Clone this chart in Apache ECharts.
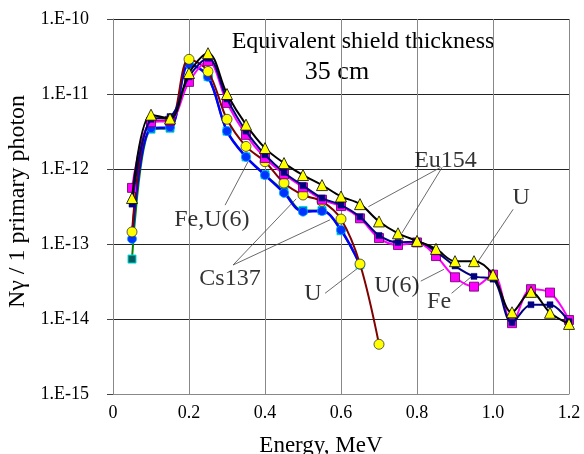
<!DOCTYPE html>
<html>
<head>
<meta charset="utf-8">
<script src="https://cdn.jsdelivr.net/npm/echarts@6/dist/echarts.min.js"></script>
<style>html,body{margin:0;padding:0;background:#fff}#c{width:584px;height:454px}</style>
</head>
<body>
<div id="c"></div>
<script>
const energy = [0.05,0.1,0.15,0.2,0.25,0.3,0.35,0.4,0.45,0.5,0.55,0.6,0.65,0.7,0.75,0.8,0.85,0.9,0.95,1.0,1.05,1.1,1.15,1.2];
const xTicks = ['0','0.2','0.4','0.6','0.8','1.0','1.2'];
const yTicks = ['1.E-15','1.E-14','1.E-13','1.E-12','1.E-11','1.E-10'];

const tealSq   = [6.3e-14,3.4e-12,3.5e-12,2.5e-11,1.7e-11,3.2e-12,1.45e-12,8.4e-13,5.0e-13,2.8e-13,2.8e-13,1.5e-13,5.3e-14];
const blueCirc = [1.17e-13,3.5e-12,3.6e-12,2.5e-11,1.7e-11,3.2e-12,1.45e-12,8.3e-13,4.8e-13,2.7e-13,2.75e-13,1.54e-13,5.3e-14];
const yellowCirc = [1.45e-13,4.4e-12,4.5e-12,2.9e-11,2.0e-11,4.6e-12,2.0e-12,1.25e-12,6.5e-13,4.5e-13,3.7e-13,2.15e-13,5.4e-14,4.6e-15];
const magentaSq = [5.6e-13,4.2e-12,4.4e-12,1.45e-11,2.75e-11,7.6e-12,2.85e-12,1.4e-12,8.5e-13,5.7e-13,3.9e-13,3.2e-13,2.2e-13,1.2e-13,9.7e-14,1.05e-13,6.9e-14,3.6e-14,2.7e-14,3.9e-14,8.8e-15,2.5e-14,2.25e-14,9.7e-15];
const navySq = [3.4e-13,4.6e-12,5.0e-12,1.7e-11,3.0e-11,8.6e-12,3.2e-12,1.55e-12,9.0e-13,6.0e-13,4.1e-13,3.3e-13,2.3e-13,1.3e-13,1.05e-13,1.07e-13,7.9e-14,5.1e-14,3.7e-14,3.4e-14,9.0e-15,1.55e-14,1.55e-14,9.2e-15];
const yellowTri = [4.1e-13,5.3e-12,4.7e-12,1.9e-11,3.5e-11,1.0e-11,3.9e-12,1.9e-12,1.2e-12,8.3e-13,6.1e-13,4.3e-13,3.4e-13,2.0e-13,1.39e-13,1.1e-13,8.6e-14,5.9e-14,5.9e-14,3.9e-14,1.23e-14,2.3e-14,1.21e-14,8.6e-15];

// annotation labels: [energy, value, text]
const annLabels = [
  [0.875, 1.3e-12, 'Eu154'],
  [0.26, 2.1e-13, 'Fe,U(6)'],
  [0.308, 3.4e-14, 'Cs137'],
  [0.526, 2.2e-14, 'U'],
  [0.747, 2.75e-14, 'U(6)'],
  [0.858, 1.7e-14, 'Fe'],
  [1.074, 4.2e-13, 'U']
];
// annotation leader lines: [[e1,v1],[e2,v2]]
const annLines = [
  [[0.862, 1.05e-12],[0.672, 3.14e-13]],
  [[0.866, 1.05e-12],[0.760, 1.39e-13]],
  [[0.295, 3.3e-13],[0.355, 1.24e-12]],
  [[0.316, 5.25e-14],[0.482, 4.0e-13]],
  [[0.316, 5.25e-14],[0.571, 2.1e-13]],
  [[0.558, 2.2e-14],[0.655, 5.25e-14]],
  [[0.810, 3.2e-14],[0.871, 4.6e-14]],
  [[0.891, 2.2e-14],[0.944, 3.7e-14]],
  [[1.053, 2.9e-13],[0.957, 5.5e-14]]
];

function pairs(vals){ return vals.map((v,i)=>[energy[i], v]); }

const FONT = '"Liberation Serif", "Times New Roman", serif';
const chart = echarts.init(document.getElementById('c'), null, {renderer:'canvas'});

function lineSeries(name, vals, color, symbol, size, fill, border, bw, z, lw){
  return {
    name, type:'line', data:pairs(vals), smooth:0.35, z:z,
    symbol, symbolSize:size, showSymbol:true,
    lineStyle:{color, width:lw||2},
    itemStyle:{color:fill, borderColor:border, borderWidth:bw, opacity:1},
    emphasis:{disabled:true}, animation:false
  };
}

chart.setOption({
  animation:false,
  grid:{left:113, right:15, top:19, bottom:60, containLabel:false, outerBoundsMode:'none'},
  xAxis:{
    type:'value', min:0, max:1.2, interval:0.2,
    name:'Energy, MeV', nameLocation:'middle', nameGap:40,
    nameTextStyle:{fontFamily:FONT, fontSize:23, color:'#000', padding:[0,40,0,0]},
    axisLine:{show:true, lineStyle:{color:'#888', width:1}},
    axisTick:{show:false},
    axisLabel:{fontFamily:FONT, fontSize:18, color:'#000', margin:10,
      formatter:(v)=>{ const i=Math.round(v/0.2); return xTicks[i]!==undefined?xTicks[i]:''; }},
    splitLine:{show:true, lineStyle:{color:'#888', width:1}}
  },
  yAxis:{
    type:'log', logBase:10, min:1e-15, max:1e-10,
    name:'N\u03b3 / 1 primary photon', nameLocation:'middle', nameGap:82, nameRotate:90,
    nameTextStyle:{fontFamily:FONT, fontSize:24, color:'#000', padding:[0,0,0,10]},
    axisLine:{show:true, lineStyle:{color:'#888', width:1}},
    axisTick:{show:true, inside:false, length:6, lineStyle:{color:'#444'}},
    axisLabel:{fontFamily:FONT, fontSize:18, color:'#000', margin:24,
      formatter:(v)=>{ const e=Math.round(Math.log10(v)); return yTicks[e+15]||''; }},
    splitLine:{show:true, lineStyle:{color:'#222', width:1}}
  },
  graphic:[
    {type:'text', x:363, y:42, style:{text:'Equivalent shield thickness', font:'24px '+FONT, fill:'#000', textAlign:'center', textVerticalAlign:'middle'}},
    {type:'text', x:337, y:72, style:{text:'35 cm', font:'26px '+FONT, fill:'#000', textAlign:'center', textVerticalAlign:'middle'}}
  ],
  series:[
    {
      type:'lines', coordinateSystem:'cartesian2d', silent:true, z:1,
      polyline:false, animation:false,
      lineStyle:{color:'#444', width:0.8, opacity:1},
      data: annLines.map(l=>({coords:l}))
    },
    {
      type:'scatter', silent:true, z:20, symbolSize:0, animation:false,
      data: annLabels.map(a=>({value:[a[0],a[1]], name:a[2]})),
      label:{show:true, position:'inside', formatter:(p)=>p.name, fontFamily:FONT, fontSize:24, color:'#000'}
    },
    lineSeries('teal', tealSq, '#008000', 'rect', 8, '#006060', '#00e0e0', 1, 3, 2),
    lineSeries('blue', blueCirc, '#0000ff', 'circle', 9, '#0033ff', '#00aaff', 0.8, 4, 2.5),
    lineSeries('brown', yellowCirc, '#800000', 'circle', 10, '#ffff00', '#333', 0.8, 5, 2),
    lineSeries('magenta', magentaSq, '#ff00ff', 'rect', 9, '#ff00ff', '#600060', 0.8, 6, 2),
    lineSeries('navy', navySq, '#000080', 'rect', 6, '#000080', '#000080', 0.5, 7, 2),
    lineSeries('tri', yellowTri, '#000000', 'triangle', 11, '#ffff00', '#000', 0.8, 8, 2)
  ]
});
</script>
</body>
</html>
